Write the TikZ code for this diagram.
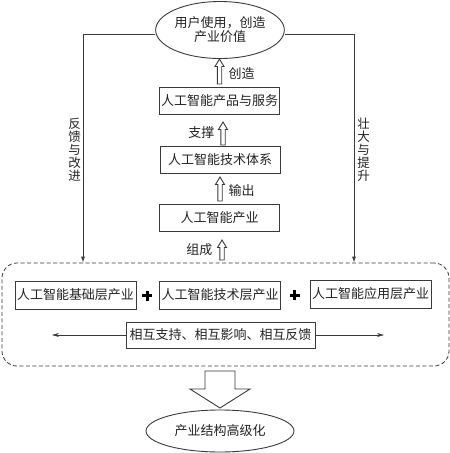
\documentclass[tikz,border=0pt]{standalone}
\usepackage{fontspec}
\setmainfont{Noto Sans CJK SC}
\usetikzlibrary{arrows.meta,shapes.geometric}
\definecolor{ln}{HTML}{3A3A3A}
\definecolor{tx}{HTML}{222222}
\newcommand{\hollowup}[3]{%
  \draw[harrow] (#1-2.2,#2) -- (#1-2.2,#3+7.5) -- (#1-4.5,#3+7.5) -- (#1,#3)
    -- (#1+4.5,#3+7.5) -- (#1+2.2,#3+7.5) -- (#1+2.2,#2) -- cycle;}
\begin{document}
\begin{tikzpicture}[x=1pt,y=-1pt,
  every node/.style={text=tx},
  txt/.style={font=\fontsize{13}{15}\selectfont},
  box/.style={draw=ln, line width=0.8pt, inner sep=0pt, txt, minimum width=120pt, minimum height=27pt},
  ell/.style={draw=ln, line width=0.9pt, ellipse, inner sep=0pt, txt, align=center},
  harrow/.style={draw=ln, line width=0.9pt, fill=white, line join=miter},
  fb/.style={draw=ln, line width=0.8pt, -{Latex[length=6pt,width=4pt]}},
  vtxt/.style={align=center, font=\fontsize{12.5}{13}\selectfont},
  plus/.style={line width=3pt, draw=black}
]
\useasboundingbox (0,0) rectangle (450,453);

% top ellipse
\node[ell, minimum width=121pt, minimum height=57pt] (user) at (220,30) {用户使用，创造\\[-1pt]产业价值};

% column of boxes
\node[box] (prod) at (219.5,100.5) {人工智能产品与服务};
\node[box] (tech) at (220,159.5) {人工智能技术体系};
\node[box] (ind) at (219.5,218) {人工智能产业};

% dashed group
\node[draw=ln, dash pattern=on 4pt off 2.5pt, line width=0.8pt, rounded corners=15pt, minimum width=447pt, minimum height=103pt, inner sep=0pt] (group) at (225.5,314.5) {};

\node[box, minimum width=121pt, minimum height=28pt] (b1) at (75.5,295) {人工智能基础层产业};
\node[box, minimum width=121pt, minimum height=28pt] (b2) at (220,295) {人工智能技术层产业};
\node[box, minimum width=121pt, minimum height=28pt] (b3) at (370.5,294) {人工智能应用层产业};
\node[box, minimum width=189pt, minimum height=26pt] (mut) at (220.5,335) {相互支持、相互影响、相互反馈};

% plus signs
\draw[plus] (142,295.5) -- (152,295.5) (147,290.5) -- (147,300.5);
\draw[plus] (289.5,295) -- (299.5,295) (294.5,290) -- (294.5,300);

% double arrow
\coordinate (dl) at (52,335);
\coordinate (dr) at (384,335);
\draw[draw=ln, line width=0.6pt, -{Stealth[length=7pt,width=4pt]}] (mut.west) -- (dl);
\draw[draw=ln, line width=0.6pt, -{Stealth[length=7pt,width=4pt]}] (mut.east) -- (dr);

% feedback lines
\coordinate (fbx) at (83,0);
\coordinate (fby) at (354,0);
\draw[fb] ([yshift=-4pt]user.west) -| (group.north -| fbx);
\draw[fb] ([yshift=-4pt]user.east) -| (group.north -| fby);
\node[vtxt] (lfb) at (74.5,150) {反\\馈\\与\\改\\进};
\node[vtxt] (rfb) at (363.5,150) {壮\\大\\与\\提\\升};

% hollow small arrows
\hollowup{219.5}{84}{59}
\node[txt, anchor=west] (l1) at (225,74) {创造};
\hollowup{223}{145}{122}
\node[txt, anchor=east] (l2) at (218,133) {支撑};
\hollowup{220}{201}{177}
\node[txt, anchor=west] (l3) at (225,191) {输出};
\hollowup{222}{260}{240}
\node[txt, anchor=east] (l4) at (216,250) {组成};

% big hollow arrow
\draw[harrow] (205,371) -- (235,371) -- (235,389) -- (250,389) -- (220,408) -- (190,389) -- (205,389) -- cycle;

% bottom ellipse
\node[ell, minimum width=148pt, minimum height=42pt] (res) at (220,431) {产业结构高级化};
\end{tikzpicture}
\end{document}
